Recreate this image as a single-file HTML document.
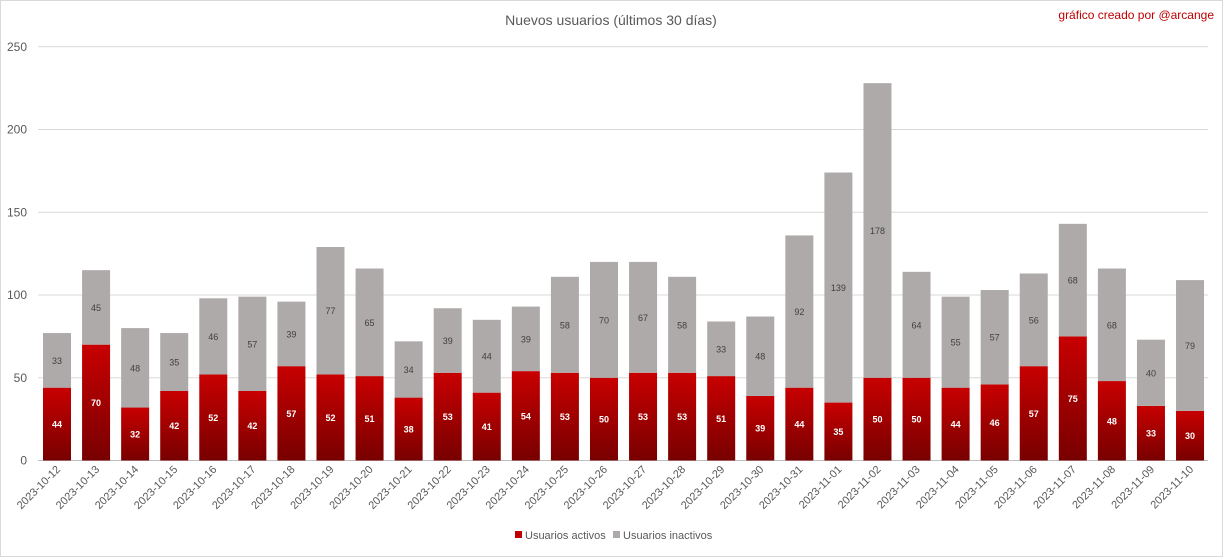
<!DOCTYPE html>
<html><head><meta charset="utf-8"><style>
body{margin:0;background:#fff;}
svg{display:block;font-family:"Liberation Sans",sans-serif;}
</style></head><body>
<svg id="s" width="1223" height="557" xmlns="http://www.w3.org/2000/svg">
<defs><linearGradient id="g" x1="0" y1="0" x2="0" y2="1"><stop offset="0" stop-color="#c80000"/><stop offset="1" stop-color="#780000"/></linearGradient></defs>
<rect x="0.5" y="0.5" width="1222" height="556" fill="#fff" stroke="#d9d9d9"/>
<text x="611" y="25" text-anchor="middle" font-size="14" fill="#595959">Nuevos usuarios (últimos 30 días)</text>
<text x="1214" y="19" text-anchor="end" font-size="12" fill="#c00000">gráfico creado por @arcange</text>
<g id="c"></g>
<rect x="515" y="531" width="7" height="7" fill="#c00000"/>
<text x="525" y="539" font-size="11" fill="#595959">Usuarios activos</text>
<rect x="613" y="531" width="7" height="7" fill="#aeaaaa"/>
<text x="623" y="539" font-size="11" fill="#595959">Usuarios inactivos</text>
</svg>
<script>
var a=[44,70,32,42,52,42,57,52,51,38,53,41,54,53,50,53,53,51,39,44,35,50,50,44,46,57,75,48,33,30];
var b=[33,45,48,35,46,57,39,77,65,34,39,44,39,58,70,67,58,33,48,92,139,178,64,55,57,56,68,68,40,79];
var y0=460.5,k=1.655,h='';
for(var v=0;v<=250;v+=50){var y=y0-v*k;h+='<line x1="38" x2="1208" y1="'+y+'" y2="'+y+'" stroke="'+(v?'#d9d9d9':'#bfbfbf')+'"/><text x="27" y="'+(y+4)+'" text-anchor="end" font-size="12" fill="#595959">'+v+'</text>';}
for(var i=0;i<30;i++){var cx=57+i*39.07,x=cx-14,ha=a[i]*k,hb=b[i]*k;
h+='<rect x="'+x+'" y="'+(y0-ha)+'" width="28" height="'+ha+'" fill="url(#g)"/>';
h+='<rect x="'+x+'" y="'+(y0-ha-hb)+'" width="28" height="'+hb+'" fill="#aeaaaa"/>';
h+='<text x="'+cx+'" y="'+(y0-ha/2+3.5)+'" text-anchor="middle" font-size="9" font-weight="bold" fill="#fff">'+a[i]+'</text>';
h+='<text x="'+cx+'" y="'+(y0-ha-hb/2+3.5)+'" text-anchor="middle" font-size="9" fill="#404040">'+b[i]+'</text>';
var d=new Date(Date.UTC(2023,9,12+i)),s=d.toISOString().slice(0,10);
h+='<text transform="translate('+(cx+4)+',470) rotate(-45)" text-anchor="end" font-size="11" fill="#595959">'+s+'</text>';}
document.getElementById('c').innerHTML=h;
</script>
</body></html>
